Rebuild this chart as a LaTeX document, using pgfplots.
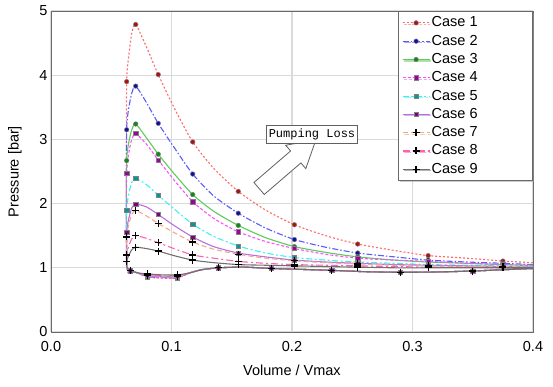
\documentclass[border=0pt]{standalone}
\usepackage{fontspec}
\setmainfont{Liberation Sans}
\newfontfamily\monopl{Liberation Mono}
\usepackage{pgfplots}
\pgfplotsset{compat=1.18}
\usetikzlibrary{shapes.arrows,shadows}
\definecolor{gridgray}{HTML}{DADADA}
\definecolor{axgray}{HTML}{6A6A6A}
\definecolor{c1}{HTML}{FF6A6A}
\definecolor{c2}{HTML}{5A5AFF}
\definecolor{c3}{HTML}{5CCB5C}
\definecolor{c4}{HTML}{FF50FF}
\definecolor{c5}{HTML}{40F0F0}
\definecolor{c6}{HTML}{B870E0}
\definecolor{c7}{HTML}{F2A88A}
\definecolor{c8}{HTML}{FF60B0}
\definecolor{c9}{HTML}{707070}
\definecolor{m1}{HTML}{B01010}
\definecolor{m2}{HTML}{1010A0}
\definecolor{m3}{HTML}{108A10}
\definecolor{m4}{HTML}{A000A0}
\definecolor{m5}{HTML}{009A9A}
\definecolor{m6}{HTML}{800080}
\begin{document}
\begin{tikzpicture}
\pgfplotsset{
  cmark/.style={mark=*, mark size=2.3pt, mark options={solid, fill=#1, draw=gray, line width=0.5pt}},
  smark/.style={mark=square*, mark size=2.1pt, mark options={solid, fill=#1, draw=gray, line width=0.5pt}},
  pmark/.style={mark=+, mark size=3.5pt, mark options={solid, draw=black, line width=1.3pt}},
}
\begin{axis}[
  scale only axis, width=482pt, height=321pt,
  xmin=0, xmax=0.4, ymin=0, ymax=5,
  xtick={0,0.1,0.2,0.3,0.4}, ytick={0,1,2,3,4,5},
  xticklabel style={/pgf/number format/fixed, /pgf/number format/fixed zerofill, /pgf/number format/precision=1, yshift=-6pt},
  /pgf/number format/assume math mode=true,
  grid=major, major grid style={draw=gridgray, line width=1.2pt},
  axis line style={draw=axgray, line width=0.9pt},
  tick style={draw=none},
  tick label style={font=\fontsize{14.5}{16}\selectfont},
  label style={font=\fontsize{14.5}{16}\selectfont},
  xlabel={Volume / Vmax}, ylabel={Pressure [bar]},
  xlabel style={at={(axis description cs:0.5,-0.1184)}, anchor=center},
  ylabel style={at={(axis description cs:-0.0747,0.5)}, anchor=center},
  legend style={at={(1,1)}, anchor=north east, draw=axgray, fill=white, line width=0.8pt,
    drop shadow={shadow xshift=1.5pt, shadow yshift=-1.5pt, fill=gray!80},
    font=\fontsize{14.5}{16}\selectfont, row sep=2.3pt, inner sep=3.5pt,
    nodes={inner sep=1.5pt, text height=10.5pt, text depth=2.5pt}},
  legend cell align=left,
  legend image code/.code={\draw[mark indices={2}] plot coordinates {(0pt,0pt) (13.5pt,0pt) (27pt,0pt)};},
  every axis plot/.append style={line width=1.1pt, smooth, tension=0.4,
    mark indices={2,4,6,8,10,12,14,16,19,22,24,26,29,31,33,35,37}},
]
% Case 1
\addplot[c1, dash pattern=on 2pt off 2pt, cmark=m1] coordinates {
(0.4,1.08)(0.375,1.105)(0.345,1.15)(0.313,1.19)(0.285,1.27)(0.2545,1.37)(0.228,1.50)(0.202,1.67)(0.178,1.90)(0.1554,2.19)(0.135,2.55)(0.1176,2.96)(0.102,3.50)(0.089,4.01)(0.079,4.45)(0.0703,4.79)(0.067,4.65)(0.0642,4.25)(0.0628,3.90)(0.0625,2.45)(0.0632,1.0)
(0.066,0.955)(0.072,0.92)(0.08,0.855)(0.092,0.84)(0.105,0.84)(0.115,0.92)(0.125,0.97)(0.139,1.0)(0.16,1.01)(0.183,0.99)(0.208,0.975)(0.233,0.96)(0.26,0.94)(0.29,0.93)(0.32,0.935)(0.35,0.95)(0.375,0.97)(0.4,0.99)};
\addlegendentry{Case 1\hspace*{50pt}}
% Case 2
\addplot[c2, dash pattern=on 6pt off 2pt on 1.5pt off 2pt, cmark=m2] coordinates {
(0.4,1.05)(0.375,1.07)(0.345,1.09)(0.313,1.12)(0.285,1.17)(0.2545,1.23)(0.228,1.32)(0.202,1.44)(0.178,1.62)(0.1554,1.85)(0.135,2.12)(0.1176,2.46)(0.102,2.88)(0.089,3.25)(0.079,3.58)(0.0703,3.83)(0.067,3.72)(0.0642,3.45)(0.0628,3.15)(0.0625,2.07)(0.0632,1.0)
(0.066,0.955)(0.072,0.92)(0.08,0.865)(0.092,0.85)(0.105,0.85)(0.115,0.92)(0.125,0.97)(0.139,1.0)(0.16,1.01)(0.183,0.99)(0.208,0.975)(0.233,0.96)(0.26,0.94)(0.29,0.93)(0.32,0.935)(0.35,0.95)(0.375,0.97)(0.4,0.99)};
\addlegendentry{Case 2}
% Case 3
\addplot[c3, solid, cmark=m3] coordinates {
(0.4,1.04)(0.375,1.05)(0.345,1.07)(0.313,1.09)(0.285,1.12)(0.2545,1.17)(0.228,1.24)(0.202,1.33)(0.178,1.47)(0.1554,1.66)(0.135,1.88)(0.1176,2.14)(0.102,2.47)(0.089,2.77)(0.079,3.03)(0.0703,3.24)(0.067,3.15)(0.0642,2.92)(0.0628,2.67)(0.0625,1.83)(0.0632,1.0)
(0.066,0.955)(0.072,0.92)(0.08,0.875)(0.092,0.86)(0.105,0.86)(0.115,0.92)(0.125,0.97)(0.139,1.0)(0.16,1.01)(0.183,0.99)(0.208,0.975)(0.233,0.96)(0.26,0.94)(0.29,0.93)(0.32,0.935)(0.35,0.95)(0.375,0.97)(0.4,0.99)};
\addlegendentry{Case 3}
% Case 4
\addplot[c4, dash pattern=on 3pt off 2pt, smark=m4] coordinates {
(0.4,1.03)(0.375,1.05)(0.345,1.07)(0.313,1.10)(0.285,1.12)(0.2545,1.15)(0.228,1.21)(0.202,1.30)(0.178,1.41)(0.1554,1.56)(0.135,1.77)(0.1176,2.03)(0.102,2.37)(0.089,2.68)(0.079,2.93)(0.0703,3.09)(0.067,3.00)(0.0642,2.75)(0.0628,2.47)(0.0625,1.73)(0.0632,1.0)
(0.066,0.955)(0.072,0.92)(0.08,0.86)(0.092,0.845)(0.105,0.845)(0.115,0.92)(0.125,0.97)(0.139,1.0)(0.16,1.01)(0.183,0.99)(0.208,0.975)(0.233,0.96)(0.26,0.94)(0.29,0.93)(0.32,0.935)(0.35,0.95)(0.375,0.97)(0.4,0.99)};
\addlegendentry{Case 4}
% Case 5
\addplot[c5, dash pattern=on 6pt off 2.5pt on 2pt off 2.5pt, smark=m5] coordinates {
(0.4,1.02)(0.375,1.03)(0.345,1.04)(0.313,1.05)(0.285,1.07)(0.2545,1.09)(0.228,1.12)(0.202,1.16)(0.178,1.23)(0.1554,1.34)(0.135,1.49)(0.1176,1.68)(0.102,1.92)(0.089,2.13)(0.079,2.30)(0.0703,2.39)(0.067,2.33)(0.0642,2.12)(0.0628,1.90)(0.0625,1.45)(0.0632,1.0)
(0.066,0.955)(0.072,0.92)(0.08,0.875)(0.092,0.86)(0.105,0.86)(0.115,0.92)(0.125,0.97)(0.139,1.0)(0.16,1.01)(0.183,0.99)(0.208,0.975)(0.233,0.96)(0.26,0.94)(0.29,0.93)(0.32,0.935)(0.35,0.95)(0.375,0.97)(0.4,0.99)};
\addlegendentry{Case 5}
% Case 6
\addplot[c6, solid, smark=m6] coordinates {
(0.4,1.01)(0.375,1.02)(0.345,1.03)(0.313,1.04)(0.285,1.05)(0.2545,1.07)(0.228,1.09)(0.202,1.12)(0.178,1.17)(0.1554,1.23)(0.135,1.33)(0.1176,1.48)(0.102,1.66)(0.089,1.83)(0.079,1.95)(0.0703,1.99)(0.067,1.93)(0.0642,1.74)(0.0628,1.55)(0.0625,1.27)(0.0632,1.0)
(0.066,0.955)(0.072,0.92)(0.08,0.88)(0.092,0.865)(0.105,0.865)(0.115,0.92)(0.125,0.97)(0.139,1.0)(0.16,1.01)(0.183,0.99)(0.208,0.975)(0.233,0.96)(0.26,0.94)(0.29,0.93)(0.32,0.935)(0.35,0.95)(0.375,0.97)(0.4,0.99)};
\addlegendentry{Case 6}
% Case 7
\addplot[c7, dash pattern=on 5pt off 3pt, pmark] coordinates {
(0.4,1.01)(0.375,1.02)(0.345,1.02)(0.313,1.03)(0.285,1.04)(0.2545,1.06)(0.228,1.08)(0.202,1.11)(0.178,1.15)(0.1554,1.21)(0.135,1.29)(0.1176,1.40)(0.102,1.55)(0.089,1.69)(0.079,1.81)(0.0703,1.89)(0.067,1.83)(0.0642,1.65)(0.0628,1.48)(0.0625,1.24)(0.0632,1.0)
(0.066,0.955)(0.072,0.92)(0.08,0.885)(0.092,0.87)(0.105,0.87)(0.115,0.92)(0.125,0.97)(0.139,1.0)(0.16,1.01)(0.183,0.99)(0.208,0.975)(0.233,0.96)(0.26,0.94)(0.29,0.93)(0.32,0.935)(0.35,0.95)(0.375,0.97)(0.4,0.99)};
\addlegendentry{Case 7}
% Case 8
\addplot[c8, dash pattern=on 7pt off 3pt on 2pt off 3pt, pmark] coordinates {
(0.4,1.0)(0.375,1.0)(0.345,1.01)(0.313,1.01)(0.285,1.02)(0.2545,1.03)(0.228,1.04)(0.202,1.05)(0.178,1.07)(0.1554,1.10)(0.135,1.15)(0.1176,1.20)(0.102,1.30)(0.089,1.39)(0.079,1.46)(0.0703,1.50)(0.067,1.45)(0.0642,1.32)(0.0628,1.20)(0.0625,1.10)(0.0632,1.0)
(0.066,0.955)(0.072,0.92)(0.08,0.89)(0.092,0.875)(0.105,0.875)(0.115,0.92)(0.125,0.97)(0.139,1.0)(0.16,1.01)(0.183,0.99)(0.208,0.975)(0.233,0.96)(0.26,0.94)(0.29,0.93)(0.32,0.935)(0.35,0.95)(0.375,0.97)(0.4,0.99)};
\addlegendentry{Case 8}
% Case 9
\addplot[c9, solid, pmark] coordinates {
(0.4,1.0)(0.375,1.0)(0.345,1.0)(0.313,1.0)(0.285,1.0)(0.2545,1.01)(0.228,1.02)(0.202,1.03)(0.178,1.04)(0.1554,1.05)(0.135,1.08)(0.1176,1.12)(0.102,1.19)(0.089,1.26)(0.079,1.30)(0.0703,1.32)(0.067,1.28)(0.0642,1.18)(0.0628,1.10)(0.0625,1.05)(0.0632,1.0)
(0.066,0.955)(0.072,0.92)(0.08,0.905)(0.092,0.89)(0.105,0.89)(0.115,0.92)(0.125,0.97)(0.139,1.0)(0.16,1.01)(0.183,0.99)(0.208,0.975)(0.233,0.96)(0.26,0.94)(0.29,0.93)(0.32,0.935)(0.35,0.95)(0.375,0.97)(0.4,0.99)};
\addlegendentry{Case 9}
% annotation
\node[single arrow, draw=gray!75!black, fill=white, line width=0.8pt, rotate=40.7,
  minimum height=75pt, inner sep=7.5pt, single arrow head extend=7.5pt, single arrow tip angle=60]
  at (axis cs:0.192,2.547) {};
\node[draw=gray!75!black, fill=white, line width=0.8pt, inner sep=2pt, minimum width=90pt, minimum height=18pt,
  font=\monopl\fontsize{12}{14}\selectfont] at (axis cs:0.2166,3.084) {Pumping Loss};
\end{axis}
\pgfresetboundingbox
\path[use as bounding box] (-51pt,-55pt) rectangle (502pt,332pt);
\end{tikzpicture}
\end{document}
